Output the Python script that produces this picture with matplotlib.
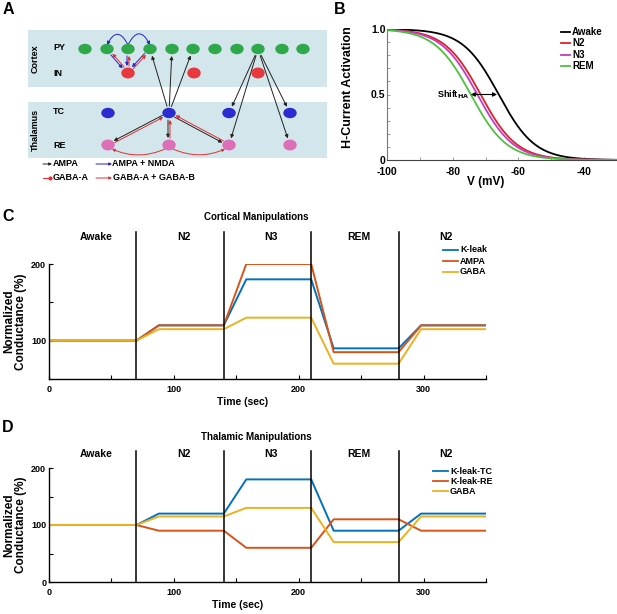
import numpy as np
import matplotlib
matplotlib.use("Agg")
import matplotlib.pyplot as plt
from matplotlib.patches import Rectangle, Ellipse, FancyArrowPatch
from matplotlib.lines import Line2D
import matplotlib.transforms as mtransforms

plt.rcParams['axes.unicode_minus'] = False
REG = ['Liberation Sans', 'DejaVu Sans']
plt.rcParams['font.family'] = REG
plt.rcParams['font.weight'] = 'bold'
plt.rcParams['axes.labelweight'] = 'bold'
plt.rcParams['mathtext.default'] = 'bf'

# ---------------- data ----------------
# Panel B: H-current activation (Boltzmann), half-activation per state
b_states = ['Awake', 'N2', 'N3', 'REM']
b_vhalf = [-66.0, -71.5, -72.5, -74.5]
b_slope = 5.5
b_colors = ['#000000', '#e0202a', '#c23cc0', '#4cc23c']
shift_from, shift_to = -74.5, -66.5

# Panels C/D
stage_names = ['Awake', 'N2', 'N3', 'REM', 'N2']
stage_bounds = [0, 70, 140, 210, 280, 350]
time_pts = [0, 70, 88, 140, 158, 210, 228, 280, 298, 350]

c_labels = ['K-leak', 'AMPA', 'GABA']
c_kleak = [100, 100, 120, 120, 180, 180, 90, 90, 120, 120]
c_ampa = [100, 100, 120, 120, 200, 200, 85, 85, 120, 120]
c_gaba = [100, 100, 115, 115, 130, 130, 70, 70, 115, 115]

d_labels = ['K-leak-TC', 'K-leak-RE', 'GABA']
d_kleak_tc = [100, 100, 120, 120, 180, 180, 90, 90, 120, 120]
d_kleak_re = [100, 100, 90, 90, 60, 60, 110, 110, 90, 90]
d_gaba = [100, 100, 115, 115, 130, 130, 70, 70, 115, 115]

ml_colors = ['#0072BD', '#D95319', '#EDB120']

W, H = 617, 614
fig = plt.figure(figsize=(W / 100, H / 100), dpi=100)


def frect(l, t, r, b):
    return [l / W, 1 - b / H, (r - l) / W, (b - t) / H]


def fx(x):
    return x / W


def fy(y):
    return 1 - y / H


# panel letters
for lab, x, y in [('A', 8, 10), ('B', 340, 10), ('C', 8, 217), ('D', 8, 427)]:
    fig.text(fx(x), fy(y), lab, fontsize=11.5, fontweight='bold',
             ha='center', va='center')

# ---------------- Panel A ----------------
axa = fig.add_axes(frect(0, 0, 330, 200))
axa.set_xlim(0, 330)
axa.set_ylim(200, 0)
axa.axis('off')
boxc = '#d3e6ec'
axa.add_patch(Rectangle((28, 30), 299, 57, facecolor=boxc, edgecolor='none'))
axa.add_patch(Rectangle((28, 102), 299, 56, facecolor=boxc, edgecolor='none'))
axa.text(35, 59, 'Cortex', rotation=90, ha='center', va='center', fontsize=6.5)
axa.text(35, 130, 'Thalamus', rotation=90, ha='center', va='center', fontsize=6.5)
for t, y in [('PY', 48), ('IN', 73), ('TC', 112), ('RE', 145)]:
    axa.text(53, y, t, ha='left', va='center', fontsize=6.5)

py_x = [85, 107, 128, 150, 172, 193, 215, 237, 258, 282, 303]
in_x = [128, 194, 258]
tc_x = [108, 169, 229, 290]
re_x = [108, 169, 229, 290]
Y_PY, Y_IN, Y_TC, Y_RE = 49, 73, 113, 145


def arrow(p0, p1, color, off=0.0, rad=0.0, style='-|>', ms=5, lw=0.7, sA=5, sB=5):
    p0 = np.array(p0, float)
    p1 = np.array(p1, float)
    d = p1 - p0
    n = np.array([-d[1], d[0]]) / np.hypot(*d)
    p0 = p0 + n * off
    p1 = p1 + n * off
    a = FancyArrowPatch(p0, p1, arrowstyle=style, mutation_scale=ms, color=color,
                        lw=lw, shrinkA=sA, shrinkB=sB,
                        connectionstyle=f'arc3,rad={rad}', zorder=2)
    axa.add_patch(a)


BL, BLU, RD = '#222222', '#2222cc', '#e03030'
# PY <-> IN
for x in [107, 128, 150]:
    arrow((x, Y_PY), (128, Y_IN), BLU, off=1.0)
    arrow((128, Y_IN), (x, Y_PY), RD, off=1.0)
# blue arcs PY-PY (over the top)
arrow((128, 45), (107, 45), BLU, rad=1.0, sA=0, sB=0)
arrow((128, 45), (150, 45), BLU, rad=-1.0, sA=0, sB=0)
# TC -> PY
for x in [150, 172, 193]:
    arrow((169, Y_TC), (x, Y_PY), BL)
# PY -> TC / RE
for x in [229, 290]:
    arrow((258, Y_PY), (x, Y_TC), BL)
    arrow((258, Y_PY), (x, Y_RE), BL)
# TC <-> RE
for x in [108, 169, 229]:
    arrow((169, Y_TC), (x, Y_RE), BL, off=1.0)
    arrow((x, Y_RE), (169, Y_TC), RD, off=1.0)
# RE-RE arcs (below)
arrow((165, 149), (112, 149), RD, rad=-0.22, sA=0, sB=0, ms=4)
arrow((173, 149), (225, 149), RD, rad=0.22, sA=0, sB=0, ms=4)

# neurons
for x in py_x:
    axa.add_patch(Ellipse((x, Y_PY), 12, 9, color='#2ea84a', zorder=3))
for x in in_x:
    axa.add_patch(Ellipse((x, Y_IN), 12, 9.5, color='#e8383d', zorder=3))
for x in tc_x:
    axa.add_patch(Ellipse((x, Y_TC), 12, 9, color='#2b2bd0', zorder=3))
for x in re_x:
    axa.add_patch(Ellipse((x, Y_RE), 12, 9.5, color='#dd6fb8', zorder=3))

# A legend
arrow((43, 164), (52, 164), BL, sA=0, sB=0, ms=4)
axa.text(52.5, 164, 'AMPA', va='center', ha='left', fontsize=6.5)
arrow((96, 164), (112, 164), BLU, sA=0, sB=0, ms=4)
axa.text(112.5, 164, 'AMPA + NMDA', va='center', ha='left', fontsize=6.5)
axa.plot([43, 50], [178, 178], color=RD, lw=0.8)
axa.plot([50], [178], 'o', color=RD, ms=2)
axa.text(52.5, 178, 'GABA-A', va='center', ha='left', fontsize=6.5)
arrow((96, 178), (112, 178), RD, sA=0, sB=0, ms=4)
axa.text(113, 178, 'GABA-A + GABA-B', va='center', ha='left', fontsize=6.5)

# ---------------- Panel B ----------------
axb = fig.add_axes(frect(387, 29, 617, 160))
V = np.linspace(-100, -30, 400)
for name, vh, col in zip(b_states, b_vhalf, b_colors):
    axb.plot(V, 1 / (1 + np.exp((V - vh) / b_slope)), color=col, lw=1.3)
axb.set_xlim(-100, -30)
axb.set_ylim(0, 1.0)
axb.spines['top'].set_visible(False)
axb.spines['right'].set_visible(False)
axb.spines['left'].set_color('#777777')
axb.spines['bottom'].set_color('#444444')
axb.set_xticks([-100, -80, -60, -40])
axb.set_xticklabels(['-100', '-80', '-60', '-40'])
axb.set_xticks([-90, -70, -50, -30], minor=True)
axb.set_yticks([0, 0.5, 1.0])
axb.set_yticklabels(['0', '0.5', '1.0'])
axb.set_yticks(np.arange(0.1, 1.0, 0.1), minor=True)
axb.tick_params(which='both', direction='in', length=2.5, width=0.6, color='#888888',
                labelsize=7.5, pad=1)
axb.tick_params(axis='x', which='both', pad=5)
axb.set_xlabel('V (mV)', fontsize=8.5)
axb.xaxis.set_label_coords((486 - 387) / 230, -(182 - 160) / 131)
axb.xaxis.label.set_va('center')
axb.set_ylabel('H-Current Activation', fontsize=9)
axb.yaxis.set_label_coords(-(387 - 348) / 230, (160 - 87) / 131)
axb.yaxis.label.set_va('center')
axb.annotate('', xy=(shift_from, 0.5), xytext=(shift_to, 0.5),
             arrowprops=dict(arrowstyle='<|-|>', color='black', lw=0.8, mutation_scale=6,
                             shrinkA=0, shrinkB=0))
axb.text(shift_from - 0.5, 0.5, 'Shift$_{HA}$', ha='right', va='center', fontsize=6.5)
for i, (name, col) in enumerate(zip(b_states, b_colors)):
    y = 32 + i * 11.4
    fig.add_artist(Line2D([fx(561), fx(570)], [fy(y), fy(y)], color=col, lw=1.3))
    fig.text(fx(572), fy(y), name, fontsize=7, va='center', ha='left')


# ---------------- Panels C, D ----------------
def cond_panel(rect, ylim, yticks, ylabels, series, labels, title, line_top, stage_y,
               title_y, leg_x, leg_y0, leg_dy, xlab_x):
    ax = fig.add_axes(rect)
    for vals, col in zip(series, ml_colors):
        ax.plot(time_pts, vals, color=col, lw=1.4)
    ax.set_xlim(stage_bounds[0], stage_bounds[-1])
    ax.set_ylim(*ylim)
    ax.spines['top'].set_visible(False)
    ax.spines['right'].set_visible(False)
    for s in ['left', 'bottom']:
        ax.spines[s].set_linewidth(1.0)
    tr = mtransforms.blended_transform_factory(ax.transData, ax.transAxes)
    for b in stage_bounds[1:-1]:
        ax.add_line(Line2D([b, b], [0, line_top], transform=tr, color='black', lw=1.1,
                           clip_on=False))
    for i, name in enumerate(stage_names):
        xc = (stage_bounds[i] + stage_bounds[i + 1]) / 2 + 3
        ax.text(xc, stage_y, name, transform=tr, ha='center', va='center', fontsize=7.5)
    fig.text(fx(256), fy(title_y), title, ha='center', va='center', fontsize=7)
    xt = list(range(0, 351, 50))
    ax.set_xticks(xt)
    ax.set_xticklabels([str(v) if v % 100 == 0 and v < 350 else '' for v in xt])
    ax.set_yticks(yticks)
    ax.set_yticklabels(ylabels)
    ax.tick_params(direction='in', length=3, width=0.8, labelsize=6.5, pad=2)
    ax.tick_params(axis='x', pad=4)
    ax.set_xlabel('Time (sec)', fontsize=7.5, labelpad=6)
    ax.xaxis.set_label_coords((xlab_x - 49) / 437, -0.2)
    ax.xaxis.label.set_va('center')
    ax.set_ylabel('Normalized\nConductance (%)', fontsize=8.5, labelpad=3, linespacing=1.0)
    for i, (lab, col) in enumerate(zip(labels, ml_colors)):
        y = leg_y0 + i * leg_dy
        fig.add_artist(Line2D([fx(leg_x), fx(leg_x + 15)], [fy(y), fy(y)], color=col, lw=1.3))
        fig.text(fx(leg_x + 17), fy(y), lab, fontsize=6.5, va='center', ha='left')
    return ax


cond_panel(frect(49, 264, 486, 379), (50, 200), [50, 100, 150, 200], ['', '100', '', '200'],
           [c_kleak, c_ampa, c_gaba], c_labels, 'Cortical Manipulations',
           1 + 32 / 115, 1 + 27 / 115, 217, 443, 250, 11, 243)
cond_panel(frect(49, 468, 486, 582), (0, 200), [0, 50, 100, 150, 200], ['0', '', '100', '', '200'],
           [d_kleak_tc, d_kleak_re, d_gaba], d_labels, 'Thalamic Manipulations',
           1 + 17 / 114, 1 + 14 / 114, 437, 433, 471, 10, 238)

fig.savefig('out.png', dpi=100)
